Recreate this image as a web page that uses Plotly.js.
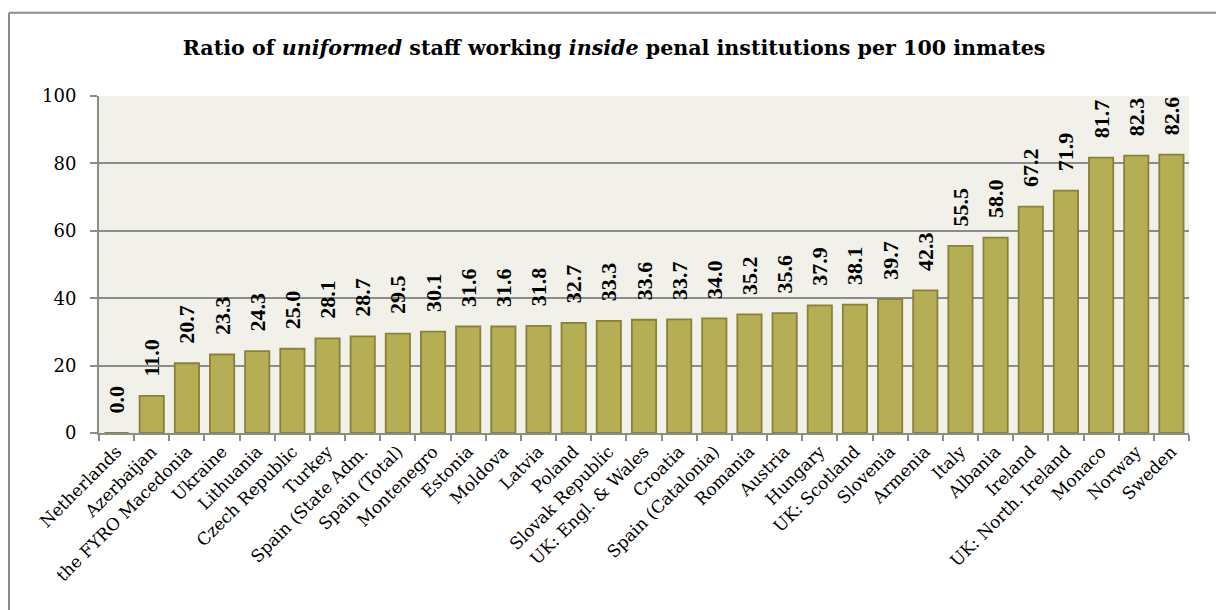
<!DOCTYPE html>
<html><head><meta charset="utf-8">
<script src="https://cdn.plot.ly/plotly-3.0.1.min.js"></script>
<style>html,body{margin:0;padding:0;background:#fff;}#chart{width:1216px;height:610px;}</style>
</head><body><div id="chart"></div>
<script>
const countries = ["Netherlands","Azerbaijan","the FYRO Macedonia","Ukraine","Lithuania","Czech Republic","Turkey","Spain (State Adm.","Spain (Total)","Montenegro","Estonia","Moldova","Latvia","Poland","Slovak Republic","UK: Engl. & Wales","Croatia","Spain (Catalonia)","Romania","Austria","Hungary","UK: Scotland","Slovenia","Armenia","Italy","Albania","Ireland","UK: North. Ireland","Monaco","Norway","Sweden"];
const ratios = [0.0,11.0,20.7,23.3,24.3,25.0,28.1,28.7,29.5,30.1,31.6,31.6,31.8,32.7,33.3,33.6,33.7,34.0,35.2,35.6,37.9,38.1,39.7,42.3,55.5,58.0,67.2,71.9,81.7,82.3,82.6];
const yTicks = [0,20,40,60,80,100];

const serif = "DejaVu Serif, serif";
const valueFont = "Liberation Serif, Times New Roman, serif";
const pad = '\u00a0\u00a0\u00a0';
const trace = {
  type: 'bar',
  x: countries,
  y: ratios,
  text: ratios.map(v => pad + v.toFixed(1)),
  textposition: 'outside',
  textangle: -90,
  constraintext: 'none',
  cliponaxis: false,
  textfont: {family: valueFont, size: 22, color: '#000', weight: 'bold'},
  marker: {color: '#B5AE55', line: {color: '#87813A', width: 1.8}},
  hoverinfo: 'none'
};
const layout = {
  width: 1216, height: 610,
  margin: {l: 99, r: 27, t: 96, b: 177},
  paper_bgcolor: '#ffffff',
  plot_bgcolor: '#F2F1E9',
  bargap: 0.31,
  showlegend: false,
  title: {text: '<b>Ratio of <i>uniformed</i> staff working <i>inside</i> penal institutions per 100 inmates</b>',
          font: {family: serif, size: 20.6, color: '#000'}, x: 0.505, xanchor: 'center', y: 0.921, yanchor: 'middle'},
  xaxis: {
    type: 'category', tickangle: -45, showgrid: false,
    tickfont: {family: serif, size: 17, color: '#000'},
    showline: true, linecolor: '#8C8C8C', linewidth: 2,
    ticks: 'outside', ticklen: 6, tickcolor: '#8C8C8C', tickwidth: 2,
    tickson: 'boundaries'
  },
  yaxis: {
    range: [0, 100], tickvals: yTicks, ticktext: yTicks.map(String),
    showgrid: true, gridcolor: '#8C8C8C', gridwidth: 2, zeroline: false,
    showline: true, linecolor: '#8C8C8C', linewidth: 2,
    ticks: 'outside', ticklen: 7, tickcolor: '#8C8C8C', tickwidth: 2,
    ticklabelstandoff: 10,
    tickfont: {family: serif, size: 18, color: '#000'}
  },
  shapes: [
    {type: 'line', xref: 'paper', yref: 'paper', x0: (9-99)/1090, x1: 1.05, y0: (433.3-12.7)/337.3, y1: (433.3-12.7)/337.3, line: {color: '#8C8C8C', width: 2}},
    {type: 'line', xref: 'paper', yref: 'paper', x0: (9-99)/1090, x1: (9-99)/1090, y0: (433.3-12.7)/337.3, y1: -0.6, line: {color: '#8C8C8C', width: 2}}
  ]
};
Plotly.newPlot('chart', [trace], layout, {displayModeBar: false, staticPlot: true});
</script>
</body></html>
